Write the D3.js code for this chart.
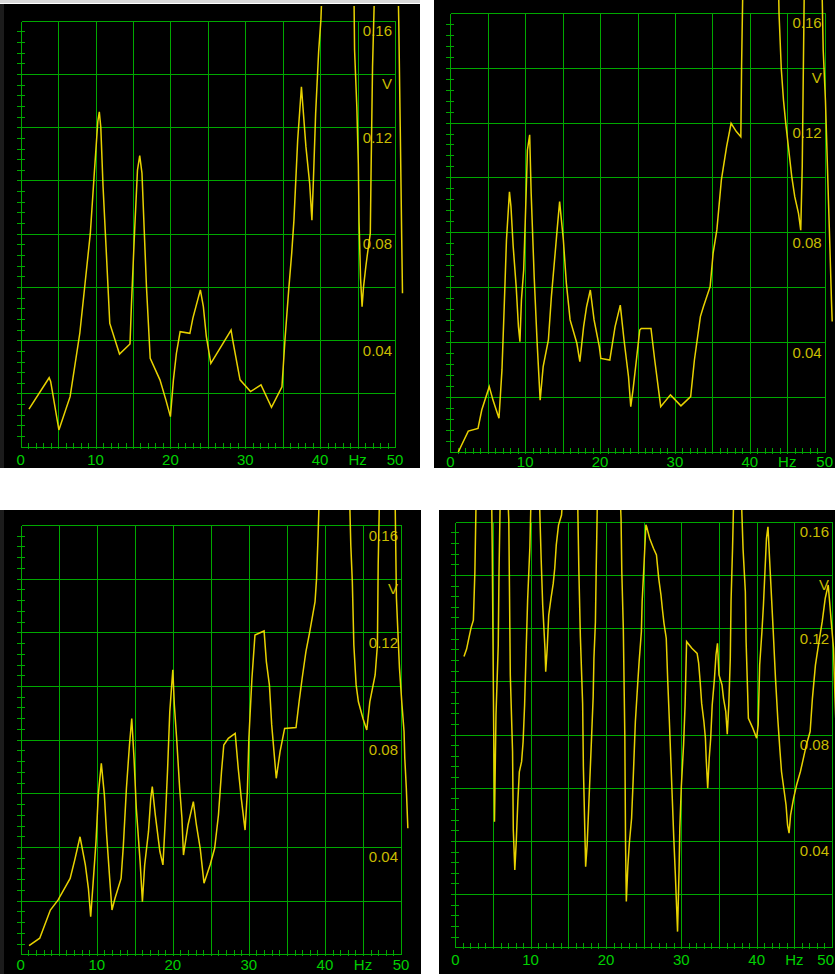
<!DOCTYPE html>
<html><head><meta charset="utf-8">
<script src="https://cdn.jsdelivr.net/npm/d3@7"></script>
<style>html,body{margin:0;padding:0;background:#fff;overflow:hidden}svg{display:block}</style>
</head><body>
<script>
// ---- data (frequency in Hz, amplitude in V) ----
const xTickValues = [0, 10, 20, 30, 40, 45, 50];
const xTickLabels = ["0", "10", "20", "30", "40", "Hz", "50"];
const yTickValues = [0.16, 0.14, 0.12, 0.08, 0.04];
const yTickLabels = ["0.16", "V", "0.12", "0.08", "0.04"];

const hz1 = [1.1,3.8,4.0,5.1,6.6,7.9,8.6,9.3,9.8,10.3,10.5,10.7,11.0,11.4,11.9,13.2,14.6,14.8,15.2,15.6,15.9,16.2,16.5,16.8,17.3,18.6,19.4,20.0,20.4,20.8,21.3,22.6,23.0,24.0,24.4,24.8,25.4,28.1,28.4,29.3,30.7,32.1,33.5,34.9,35.3,35.8,36.2,36.5,37.0,37.5,37.7,38.1,38.6,38.9,39.1,39.4,39.8,40.1,40.3,42.5,44.5,44.6,44.9,45.1,45.2,45.4,45.6,45.8,46.1,46.3,46.7,46.8,47.0,47.3,48.9,50.4,50.5,50.7,50.9,51.0];
const v1  = [0.0141,0.0259,0.0245,0.0063,0.0188,0.0427,0.0614,0.0801,0.1014,0.1221,0.1258,0.1200,0.0977,0.0751,0.0463,0.0348,0.0386,0.0539,0.0801,0.1039,0.1093,0.1027,0.0814,0.0601,0.0332,0.0251,0.0175,0.0113,0.0251,0.0351,0.0432,0.0426,0.0483,0.0589,0.0526,0.0413,0.0313,0.0438,0.0388,0.0251,0.0207,0.0232,0.0148,0.0225,0.0401,0.0589,0.0726,0.0851,0.1152,0.1352,0.1277,0.1127,0.0989,0.0851,0.1002,0.1252,0.1484,0.1603,0.175,0.21,0.175,0.149,0.1277,0.1064,0.0845,0.0632,0.0526,0.0601,0.0676,0.0720,0.0801,0.1027,0.1427,0.175,0.21,0.175,0.160,0.120,0.0776,0.0576];

const hz2 = [1.07,2.4,3.7,4.2,5.2,5.7,6.5,6.9,7.2,7.5,7.9,8.1,8.4,8.8,9.1,9.3,9.5,9.8,10.1,10.3,10.6,10.8,11.2,11.6,12.0,12.4,13.1,13.5,14.0,14.3,14.6,15.1,15.5,16.0,16.9,17.3,17.8,18.2,18.7,19.2,19.9,20.1,21.3,22.0,22.7,23.2,23.8,24.1,24.4,24.9,25.3,25.5,26.8,27.3,28.1,29.4,30.8,32.1,32.6,33.4,33.8,34.7,35.1,35.6,36.2,36.9,37.5,38.2,38.8,38.9,39.1,41.5,43.8,43.9,44.2,44.5,44.8,45.2,45.6,46.0,46.5,46.8,47.0,47.1,47.3,48.5,49.6,49.8,50.1,50.3,50.5,50.7,50.9,51.0];
const v2  = [0.0,0.0076,0.0086,0.0153,0.0238,0.0189,0.0123,0.0299,0.0529,0.0772,0.0948,0.0894,0.0748,0.0602,0.0456,0.0402,0.0554,0.0663,0.0918,0.110,0.1155,0.0942,0.0639,0.0396,0.0189,0.0311,0.0408,0.0566,0.0724,0.082,0.0912,0.0772,0.0614,0.0481,0.0396,0.0329,0.0456,0.0529,0.059,0.0481,0.0384,0.0341,0.0335,0.0456,0.0535,0.0408,0.0274,0.0165,0.0226,0.0347,0.0444,0.045,0.045,0.0335,0.0165,0.0208,0.0168,0.0202,0.0335,0.0493,0.0529,0.0602,0.0724,0.0809,0.0991,0.1112,0.1197,0.1167,0.1148,0.1403,0.175,0.22,0.175,0.1598,0.1397,0.128,0.1197,0.110,0.1003,0.093,0.0869,0.0808,0.1039,0.128,0.175,0.21,0.175,0.1464,0.128,0.110,0.0918,0.0742,0.0554,0.0475];

const hz3 = [1.1,2.5,3.9,4.9,6.5,7.1,7.8,8.5,8.9,9.2,9.5,9.9,10.2,10.6,11.0,11.3,11.7,12.0,12.4,13.2,13.5,13.9,14.3,14.6,14.9,15.2,15.7,16.0,16.3,16.8,17.1,17.3,17.7,18.3,18.7,19.0,19.3,19.6,20.0,20.2,20.5,20.9,21.2,21.4,22.0,22.7,23.1,23.6,24.1,24.9,25.5,26.0,26.4,26.7,27.3,28.2,28.6,29.0,29.5,29.8,30.0,30.4,30.8,32.0,32.3,32.7,33.0,33.6,34.1,34.7,36.2,36.6,37.0,37.5,38.0,38.7,38.9,39.1,39.3,41.3,43.2,43.4,43.6,43.8,44.1,44.4,45.0,45.5,45.9,46.6,46.9,47.0,47.2,48.2,49.2,49.4,49.8,50.1,50.4,50.5,50.7,50.9];
const v3  = [0.0032,0.006,0.0165,0.0202,0.0283,0.0351,0.0438,0.0333,0.0246,0.014,0.0258,0.042,0.0594,0.0712,0.0594,0.0445,0.0283,0.0165,0.0209,0.0283,0.0407,0.0619,0.078,0.0879,0.073,0.0544,0.0345,0.0196,0.0333,0.0457,0.0581,0.0625,0.0519,0.0383,0.0333,0.0494,0.0681,0.0904,0.106,0.0929,0.0805,0.0619,0.0507,0.037,0.0482,0.0569,0.0482,0.0395,0.0265,0.0333,0.0395,0.0519,0.0681,0.078,0.0805,0.0823,0.0693,0.0581,0.0463,0.0606,0.0805,0.1028,0.119,0.1205,0.109,0.1003,0.0855,0.0656,0.0755,0.0842,0.0845,0.0941,0.1028,0.1128,0.1202,0.1314,0.1401,0.1562,0.175,0.22,0.175,0.1525,0.1389,0.1153,0.1004,0.0941,0.0879,0.0836,0.0941,0.1041,0.1153,0.1451,0.175,0.21,0.175,0.1327,0.1066,0.0941,0.083,0.073,0.0619,0.047];

const hz4 = [1.15,1.5,1.8,2.1,2.4,2.6,2.8,3.8,4.8,4.9,5.0,5.1,5.2,5.4,5.7,5.8,6.0,6.5,6.9,7.1,7.2,7.3,7.6,7.7,7.9,8.1,8.3,8.5,8.8,9.0,9.2,9.4,9.6,9.9,10.1,10.6,11.1,11.4,11.6,11.9,12.0,12.2,12.4,12.7,13.0,13.2,13.4,13.7,14.1,14.4,15.3,16.2,16.4,16.6,16.9,17.0,17.2,17.3,17.5,17.7,17.9,18.1,18.3,18.4,18.6,18.7,18.9,20.3,21.8,22.0,22.1,22.3,22.5,22.6,22.7,22.9,23.1,23.4,23.6,23.9,24.2,24.4,24.7,24.8,25.0,25.3,25.4,25.8,26.3,26.7,27.0,27.3,27.5,27.7,28.0,28.2,28.4,28.6,28.8,29.0,29.2,29.4,29.5,29.7,29.8,30.0,30.3,30.5,30.7,31.4,32.1,32.3,32.5,32.7,33.0,33.2,33.3,33.5,33.7,33.9,34.1,34.4,34.6,34.8,35.0,35.4,35.6,35.9,36.1,36.3,36.5,36.6,36.8,37.0,37.4,37.9,38.2,38.5,38.6,38.8,38.9,39.5,40.0,40.2,40.4,40.7,40.9,41.1,41.3,41.5,41.8,42.0,42.2,42.5,42.8,43.1,43.3,43.6,43.9,44.1,44.3,44.5,44.9,45.3,45.8,46.2,46.6,47.1,47.4,47.8,48.2,48.7,49.1,49.5,49.9,50.2,50.4,50.7,51.0];
const v4  = [0.1093,0.1121,0.1162,0.1202,0.123,0.1412,0.175,0.21,0.175,0.1506,0.1162,0.0811,0.0472,0.0873,0.1136,0.1406,0.175,0.2,0.175,0.1606,0.1318,0.1024,0.0736,0.0441,0.0291,0.0403,0.0548,0.066,0.0698,0.0773,0.0911,0.1111,0.1306,0.1506,0.175,0.2,0.175,0.1456,0.1287,0.1124,0.1036,0.1124,0.1249,0.1312,0.1368,0.1425,0.1512,0.1587,0.1625,0.175,0.2,0.175,0.1418,0.1168,0.0917,0.0679,0.0429,0.0303,0.0385,0.0523,0.066,0.0798,0.0942,0.1086,0.1224,0.1418,0.175,0.21,0.175,0.1613,0.1412,0.1199,0.0798,0.0385,0.0172,0.0303,0.0391,0.0485,0.0623,0.0848,0.0986,0.1074,0.1187,0.13,0.1412,0.1588,0.1581,0.1537,0.15,0.1475,0.1387,0.1324,0.1268,0.1218,0.1162,0.0999,0.0861,0.071,0.056,0.041,0.0278,0.0134,0.0059,0.0291,0.0447,0.0604,0.0761,0.0911,0.1149,0.1124,0.1105,0.1068,0.0999,0.0917,0.0848,0.0786,0.071,0.0598,0.071,0.0786,0.0911,0.1011,0.1099,0.1143,0.1024,0.0986,0.0936,0.0886,0.0801,0.0911,0.1086,0.13,0.15,0.175,0.2,0.175,0.1494,0.1337,0.1149,0.0961,0.0861,0.0823,0.0786,0.0836,0.1061,0.1187,0.1287,0.1412,0.1537,0.1581,0.1412,0.13,0.1187,0.1011,0.0861,0.0736,0.066,0.0598,0.0535,0.046,0.0429,0.0497,0.056,0.061,0.066,0.071,0.0761,0.0811,0.0936,0.1061,0.1136,0.1224,0.1312,0.1362,0.1224,0.1124,0.0936,0.07,0.055];

// ---- layout ----
const W = 835, H = 974;
const GRID = "#00a800", XTXT = "#00d000", YTXT = "#c8bc00", LINE = "#e8d200";
const panels = [
  {bx:0,   by:4,   bw:420, bh:464, x0:20.7,  x1:395,   yT:20.7,  yB:446.7, lab:18.3, hz:hz1, v:v1},
  {bx:434, by:0,   bw:401, bh:468, x0:450.3, x1:824.7, yT:12.7,  yB:452,   lab:14.8, hz:hz2, v:v2},
  {bx:0,   by:510, bw:421, bh:464, x0:20.7,  x1:401,   yT:525,   yB:954.3, lab:15.4, hz:hz3, v:v3},
  {bx:439, by:510, bw:396, bh:464, x0:455.3, x1:832,   yT:521.7, yB:947.3, lab:17.5, hz:hz4, v:v4}
];

const svg = d3.select("body").append("svg").attr("width", W).attr("height", H);
svg.append("rect").attr("width", W).attr("height", H).attr("fill", "#fff");
svg.append("rect").attr("x", 0).attr("y", 0).attr("width", 420).attr("height", 3).attr("fill", "#d8d8d8");

const px = v => Math.round(v) + 0.5;

panels.forEach((p, i) => {
  const g = svg.append("g");
  g.append("rect").attr("x", p.bx).attr("y", p.by).attr("width", p.bw).attr("height", p.bh).attr("fill", "#000");
  if (p.bx === 0) g.append("rect").attr("x", 0).attr("y", p.by).attr("width", 4).attr("height", p.bh).attr("fill", "#1c1c1c");

  const x = d3.scaleLinear().domain([0, 50]).range([p.x0, p.x1]);
  const y = d3.scaleLinear().domain([0, 0.16]).range([p.yB, p.yT]);

  // grid
  const grid = g.append("g").attr("stroke", GRID).attr("stroke-width", 1).attr("shape-rendering", "crispEdges");
  d3.range(0, 51, 5).forEach(f => grid.append("line").attr("x1", px(x(f))).attr("x2", px(x(f))).attr("y1", px(y(0))).attr("y2", px(y(0.16))));
  d3.range(0, 9).forEach(k => grid.append("line").attr("x1", px(x(0))).attr("x2", px(x(50))).attr("y1", px(y(k * 0.02))).attr("y2", px(y(k * 0.02))));
  // minor ticks
  d3.range(1, 40).forEach(k => grid.append("line").attr("x1", px(x(0)) - 5).attr("x2", px(x(0)) + 3).attr("y1", px(y(k * 0.004))).attr("y2", px(y(k * 0.004))));
  d3.range(1, 50).forEach(f => grid.append("line").attr("x1", px(x(f))).attr("x2", px(x(f))).attr("y1", px(y(0)) - 5).attr("y2", px(y(0)) + 1));

  // x labels (kept inside the panel's right edge)
  const right = p.bx + p.bw - 1;
  g.selectAll(null).data(xTickValues).enter().append("text")
    .attr("x", d => x(d)).attr("y", y(0) + p.lab)
    .attr("text-anchor", "middle").attr("fill", XTXT)
    .attr("font-family", "'Liberation Sans', Arial, sans-serif").attr("font-size", 15)
    .text((d, j) => xTickLabels[j])
    .each(function(d) {
      const w = this.getComputedTextLength();
      const cx = x(d);
      if (cx + w / 2 > right) d3.select(this).attr("x", right - w / 2);
    });
  // y labels
  g.selectAll(null).data(yTickValues).enter().append("text")
    .attr("x", x(50) - 3).attr("y", d => y(d) + 15.5)
    .attr("text-anchor", "end").attr("fill", YTXT)
    .attr("font-family", "'Liberation Sans', Arial, sans-serif").attr("font-size", 15)
    .text((d, j) => yTickLabels[j]);

  // curve
  const cid = "clip" + i;
  svg.append("clipPath").attr("id", cid).append("rect")
    .attr("x", p.bx).attr("y", p.by + (i === 0 ? 2 : 0)).attr("width", p.bw).attr("height", p.bh);
  const pts = p.hz.map((f, j) => [f, p.v[j]]);
  g.append("path").datum(pts)
    .attr("clip-path", `url(#${cid})`)
    .attr("fill", "none").attr("stroke", LINE).attr("stroke-width", 1.5)
    .attr("stroke-linejoin", "miter")
    .attr("d", d3.line().x(d => x(d[0])).y(d => y(d[1])));
});
</script>
</body></html>
